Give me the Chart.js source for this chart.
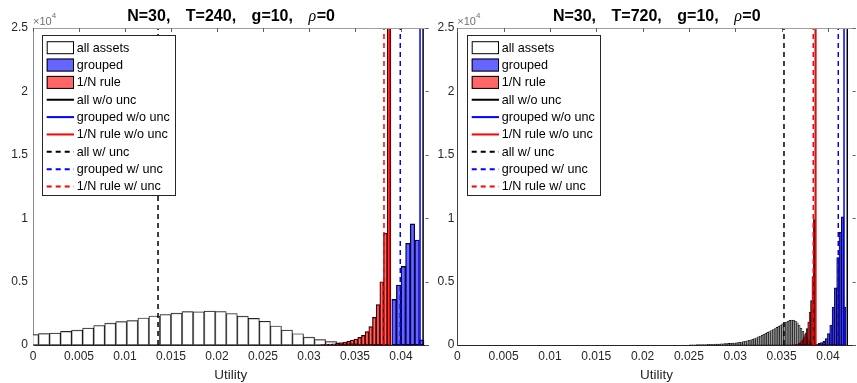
<!DOCTYPE html>
<html><head><meta charset="utf-8">
<script src="https://cdn.jsdelivr.net/npm/chart.js@4.4.1/dist/chart.umd.min.js"></script>
<style>
html,body{margin:0;padding:0;background:#fff;}
#wrap{position:relative;width:857px;height:383px;overflow:hidden;background:#fff;}
#c1{position:absolute;left:0;top:0;width:430px;height:383px;}
#c2{position:absolute;left:430px;top:0;width:427px;height:383px;}
</style></head><body>
<div id="wrap">
<canvas id="c1" width="430" height="383"></canvas>
<canvas id="c2" width="427" height="383"></canvas>
</div>
<script>
// ---------- tick labels ----------
const xTicks = [0, 0.005, 0.01, 0.015, 0.02, 0.025, 0.03, 0.035, 0.04];
const xTickLabels = ['0','0.005','0.01','0.015','0.02','0.025','0.03','0.035','0.04'];
const yTicks = [0, 5000, 10000, 15000, 20000, 25000];
const yTickLabels = ['0','0.5','1','1.5','2','2.5'];
const seriesNames = ['all assets','grouped','1/N rule','all w/o unc','grouped w/o unc','1/N rule w/o unc','all w/ unc','grouped w/ unc','1/N rule w/ unc'];
const leftTitle = ['N=30,', 'T=240,', 'g=10,'];
const rightTitle = ['N=30,', 'T=720,', 'g=10,'];

// ---------- left panel (T=240) ----------
const leftAllBins = [0, 0.0012, 0.0024, 0.0036, 0.0048, 0.0060, 0.0072, 0.0084, 0.0096, 0.0108, 0.0120, 0.0132, 0.0144, 0.0156, 0.0168, 0.0180, 0.0192, 0.0204, 0.0216, 0.0228, 0.0240, 0.0252, 0.0264, 0.0276, 0.0288, 0.0300, 0.0312, 0.0324, 0.0336, 0.0348, 0.0360, 0.0372, 0.0384];
const leftAllCounts = [815, 895, 945, 1075, 1170, 1340, 1535, 1720, 1840, 1920, 2130, 2290, 2400, 2510, 2630, 2615, 2680, 2640, 2485, 2275, 2100, 1870, 1500, 1180, 890, 620, 420, 260, 180, 110, 60, 30, 10];
const leftGroupedBins = [0.03925, 0.03975, 0.04025, 0.04075, 0.04125, 0.04175, 0.04225];
const leftGroupedCounts = [3600, 4730, 6200, 8020, 9550, 8280, 400];
const leftOneNBins = [0.0315, 0.0319, 0.0323, 0.0327, 0.0331, 0.0335, 0.0339, 0.0343, 0.0347, 0.0351, 0.0355, 0.0359, 0.0363, 0.0367, 0.0371, 0.0375, 0.0379, 0.0383, 0.0387];
const leftOneNCounts = [30, 50, 70, 100, 130, 180, 240, 290, 390, 470, 600, 760, 1050, 1450, 2180, 3180, 4990, 8810, 60000];
// all w/o, grouped w/o, 1/N w/o, all w/, grouped w/, 1/N w/
const leftLines = [0.0424, 0.04207, 0.03875, 0.01359, 0.03992, 0.03815];

// ---------- right panel (T=720) ----------
const rightAllBins = [0.0251,0.0253,0.0255,0.0257,0.0259,0.0261,0.0263,0.0265,0.0267,0.0269,0.0271,0.0273,0.0275,0.0277,0.0279,0.0281,0.0283,0.0285,0.0287,0.0289,0.0291,0.0293,0.0295,0.0297,0.0299,0.0301,0.0303,0.0305,0.0307,0.0309,0.0311,0.0313,0.0315,0.0317,0.0319,0.0321,0.0323,0.0325,0.0327,0.0329,0.0331,0.0333,0.0335,0.0337,0.0339,0.0341,0.0343,0.0345,0.0347,0.0349,0.0351,0.0353,0.0355,0.0357,0.0359,0.0361,0.0363,0.0365,0.0367,0.0369,0.0371,0.0373,0.0375,0.0377,0.0379,0.0381,0.0383,0.0385,0.0387];
const rightAllCounts = [15,18,20,22,25,28,30,34,38,42,46,50,55,60,66,72,80,88,96,105,115,125,135,145,155,165,185,210,235,260,290,330,370,410,460,510,570,640,710,780,850,920,990,1060,1140,1220,1300,1390,1480,1570,1660,1740,1810,1880,1940,1970,1950,1880,1750,1560,1330,1080,820,580,380,220,100,30,8];
const rightGroupedBins = [0.038825, 0.039075, 0.039325, 0.039575, 0.039825, 0.040075, 0.040325, 0.040575, 0.040825, 0.041075, 0.041325, 0.041575, 0.041825];
const rightGroupedCounts = [60, 130, 200, 290, 500, 900, 1580, 3000, 4500, 6900, 8900, 10100, 3000];
const rightOneNBins = [0.03625, 0.0364, 0.03655, 0.0367, 0.03685, 0.037, 0.03715, 0.0373, 0.03745, 0.0376, 0.03775, 0.0379, 0.03805, 0.0382, 0.03835, 0.0385, 0.03865];
const rightOneNCounts = [10, 20, 30, 60, 110, 180, 280, 420, 650, 950, 1300, 1800, 2600, 3500, 5400, 9900, 40000];
const rightLines = [0.04209, 0.04174, 0.03869, 0.03526, 0.04112, 0.03842];

// ---------- styles ----------
const FONT = '"Liberation Sans", Arial, Helvetica, sans-serif';
const lineColors = ['#000000', '#0000ff', '#ff0000', '#000000', '#0000ff', '#ff0000'];
const lineDash = [[], [], [], [5, 4], [5, 4], [5, 4]];
const patchFill = ['#ffffff', 'rgb(102,102,255)', 'rgb(255,102,102)'];

const matlabDecor = {
  id: 'matlabDecor',
  afterDraw(chart, args, o) {
    const ctx = chart.ctx, a = chart.chartArea;
    const xs = chart.scales.x, ys = chart.scales.y;
    ctx.save();
    // top box line
    ctx.lineWidth = 1;
    ctx.strokeStyle = '#a0a0a0';
    ctx.beginPath();
    ctx.moveTo(a.left, a.top + 0.5); ctx.lineTo(a.right, a.top + 0.5);
    ctx.stroke();
    // inward ticks (top and right)
    ctx.strokeStyle = '#606060';
    ctx.beginPath();
    xTicks.forEach(v => { const p = Math.round(xs.getPixelForValue(v)) + 0.5; ctx.moveTo(p, a.top); ctx.lineTo(p, a.top + 4); });
    yTicks.forEach(v => { const p = Math.round(ys.getPixelForValue(v)) + 0.5; ctx.moveTo(a.right, p); ctx.lineTo(a.right - 3, p); });
    ctx.stroke();
    // exponent label
    ctx.fillStyle = '#707070';
    ctx.textAlign = 'left'; ctx.textBaseline = 'alphabetic';
    ctx.font = '11px ' + FONT;
    ctx.fillText('\u00d710', a.left, 25);
    const we = ctx.measureText('\u00d710').width;
    ctx.font = '8px ' + FONT;
    ctx.fillText('4', a.left + we, 18);
    // title
    const bold = 'bold 16px ' + FONT, ital = 'italic 16px "Liberation Serif", serif';
    const gap = 15.5;
    ctx.font = bold;
    const parts = o.title;
    const pw = parts.map(t => ctx.measureText(t).width);
    const w0 = ctx.measureText('=0').width;
    ctx.font = ital;
    const wr = ctx.measureText('\u03c1').width;
    let total = pw.reduce((s, w) => s + w + gap, 0) + wr + w0;
    let x = (a.left + a.right) / 2 - total / 2;
    const ty = 21;
    ctx.fillStyle = '#000';
    ctx.font = bold;
    parts.forEach((t, i) => { ctx.fillText(t, x, ty); x += pw[i] + gap; });
    ctx.font = ital; ctx.fillText('\u03c1', x, ty); x += wr + 0.5;
    ctx.font = bold; ctx.fillText('=0', x, ty);
    // legend
    const bx = a.left + o.legendDx, by = a.top + 7, bw = 132.5, bh = 160;
    ctx.fillStyle = '#fff';
    ctx.fillRect(bx, by, bw, bh);
    ctx.strokeStyle = '#262626'; ctx.lineWidth = 1;
    ctx.strokeRect(Math.round(bx) + 0.5, Math.round(by) + 0.5, Math.round(bw), Math.round(bh));
    ctx.font = '12.6px ' + FONT;
    ctx.textBaseline = 'middle';
    for (let i = 0; i < seriesNames.length; i++) {
      const cy = by + 12.7 + i * 17.35;
      const x0 = bx + 5, x1 = bx + 32.3;
      if (i < 3) {
        ctx.fillStyle = patchFill[i];
        ctx.fillRect(x0, cy - 6.5, x1 - x0, 13);
        ctx.strokeStyle = '#000'; ctx.lineWidth = 1; ctx.setLineDash([]);
        ctx.strokeRect(x0 + 0.5, cy - 6.5 + 0.5, x1 - x0 - 1, 12);
      } else {
        ctx.strokeStyle = lineColors[i - 3]; ctx.lineWidth = 2;
        ctx.setLineDash(lineDash[i - 3]);
        ctx.beginPath(); ctx.moveTo(x0, cy); ctx.lineTo(x1, cy); ctx.stroke();
        ctx.setLineDash([]);
      }
      ctx.fillStyle = '#000';
      ctx.fillText(seriesNames[i], bx + 35, cy + 0.5);
    }
    ctx.restore();
  }
};

function hist(label, bins, counts, axis, fill, bw, order) {
  return {
    type: 'bar', label, xAxisID: axis, yAxisID: 'y',
    data: bins.map((b, i) => ({ x: b, y: counts[i] })),
    backgroundColor: fill, borderColor: '#000', borderWidth: bw, borderSkipped: false,
    barPercentage: 1, categoryPercentage: 1, grouped: false, order
  };
}
function vline(label, v, i) {
  return {
    type: 'line', label, xAxisID: 'x', yAxisID: 'y',
    data: [{ x: v, y: 0 }, { x: v, y: 25000 }],
    borderColor: lineColors[i], borderWidth: 1.5, borderDash: lineDash[i],
    pointRadius: 0, fill: false, order: 0
  };
}
function hiddenX() {
  return { type: 'linear', display: false, min: 0, max: 0.043, offset: false, ticks: { stepSize: 0.01 } };
}

function makeChart(id, cfg) {
  const datasets = [
    hist(seriesNames[0], cfg.allBins, cfg.allCounts, 'xW', 'rgba(255,255,255,0.6)', cfg.bwAll, 3),
    hist(seriesNames[1], cfg.gBins, cfg.gCounts, 'xB', 'rgba(0,0,255,0.6)', cfg.bw, 2),
    hist(seriesNames[2], cfg.nBins, cfg.nCounts, 'xR', 'rgba(255,0,0,0.6)', cfg.bw, 1)
  ];
  cfg.lines.forEach((v, i) => datasets.push(vline(seriesNames[3 + i], v, i)));
  return new Chart(document.getElementById(id), {
    type: 'bar',
    data: { datasets },
    options: {
      responsive: false, animation: false, events: [],
      layout: { padding: { top: 28, right: cfg.padRight, left: 0, bottom: 0 } },
      plugins: { legend: { display: false }, tooltip: { enabled: false },
        matlabDecor: { title: cfg.title, legendDx: cfg.legendDx } },
      scales: {
        x: {
          type: 'linear', min: 0, max: 0.043, offset: false,
          grid: { display: false, drawTicks: false },
          border: { display: true, color: '#262626', width: 1 },
          afterBuildTicks: s => { s.ticks = xTicks.map(v => ({ value: v })); },
          afterFit: s => { s.height = 38; },
          ticks: { autoSkip: false, maxRotation: 0, padding: 4, color: '#262626',
            font: { family: FONT, size: 12 }, callback: (v, i) => xTickLabels[i] },
          title: { display: true, text: 'Utility', color: '#262626',
            font: { family: FONT, size: 13.5 }, padding: { top: 0, bottom: 0 } }
        },
        xW: hiddenX(), xB: hiddenX(), xR: hiddenX(),
        y: {
          type: 'linear', min: 0, max: 25000,
          grid: { display: false, drawTicks: false },
          border: { display: true, color: cfg.yAxisColor, width: 1 },
          afterBuildTicks: s => { s.ticks = yTicks.map(v => ({ value: v })); },
          afterFit: s => { s.width = cfg.yWidth; },
          ticks: { padding: cfg.yPad, color: '#262626', font: { family: FONT, size: 12 },
            callback: (v, i) => yTickLabels[i] }
        }
      }
    },
    plugins: [matlabDecor]
  });
}

makeChart('c1', {
  allBins: leftAllBins, allCounts: leftAllCounts,
  gBins: leftGroupedBins, gCounts: leftGroupedCounts,
  nBins: leftOneNBins, nCounts: leftOneNCounts,
  lines: leftLines, title: leftTitle,
  bwAll: 0.7, bw: 0.7, padRight: 1.4, yWidth: 33, yPad: 5, legendDx: 8.7, yAxisColor: '#8c8c8c'
});
makeChart('c2', {
  allBins: rightAllBins, allCounts: rightAllCounts,
  gBins: rightGroupedBins, gCounts: rightGroupedCounts,
  nBins: rightOneNBins, nCounts: rightOneNCounts,
  lines: rightLines, title: rightTitle,
  bwAll: 0.6, bw: 0.5, padRight: 1.3, yWidth: 27.3, yPad: 3, legendDx: 9.4, yAxisColor: '#404040'
});
</script>
</body></html>
